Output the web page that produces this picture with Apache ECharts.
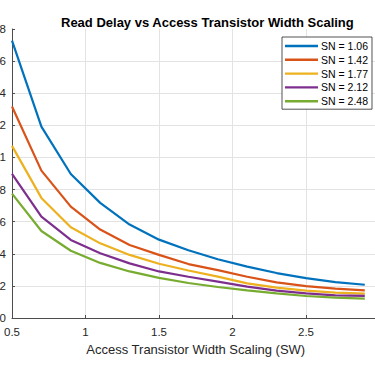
<!DOCTYPE html>
<html>
<head>
<meta charset="utf-8">
<script src="https://cdn.jsdelivr.net/npm/echarts@6/dist/echarts.min.js"></script>
<style>html,body{margin:0;padding:0;background:#fff}#c{width:375px;height:366px}</style>
</head>
<body>
<div id="c"></div>
<script>
const sw = [0.5, 0.7, 0.9, 1.1, 1.3, 1.5, 1.7, 1.9, 2.1, 2.3, 2.5, 2.7, 2.9];
const sn106 = [1.728, 1.192, 0.897, 0.717, 0.582, 0.488, 0.422, 0.366, 0.320, 0.280, 0.248, 0.224, 0.207];
const sn142 = [1.317, 0.918, 0.694, 0.551, 0.455, 0.393, 0.336, 0.298, 0.257, 0.222, 0.199, 0.183, 0.172];
const sn177 = [1.072, 0.748, 0.565, 0.465, 0.393, 0.338, 0.296, 0.258, 0.216, 0.189, 0.170, 0.158, 0.152];
const sn212 = [0.897, 0.631, 0.486, 0.403, 0.340, 0.290, 0.257, 0.227, 0.195, 0.170, 0.153, 0.141, 0.138];
const sn248 = [0.775, 0.542, 0.419, 0.343, 0.290, 0.250, 0.218, 0.193, 0.172, 0.153, 0.137, 0.127, 0.121];
const seriesNames = ['SN = 1.06', 'SN = 1.42', 'SN = 1.77', 'SN = 2.12', 'SN = 2.48'];
const seriesValues = [sn106, sn142, sn177, sn212, sn248];
const colors = ['#0072BD', '#D95319', '#EDB120', '#7E2F8E', '#77AC30'];
const titleText = 'Read Delay vs Access Transistor Width Scaling';
const xLabel = 'Access Transistor Width Scaling (SW)';

const FONT = '"Liberation Sans", Arial, Helvetica, sans-serif';
const chart = echarts.init(document.getElementById('c'), null, {renderer: 'svg'});
chart.setOption({
  animation: false,
  backgroundColor: '#fff',
  color: colors,
  textStyle: {fontFamily: FONT},
  title: {
    text: titleText,
    left: 56, top: 11,
    textStyle: {fontSize: 13, fontWeight: 'bold', color: '#000', fontFamily: FONT}
  },
  legend: {
    orient: 'vertical',
    left: 282, top: 37,
    itemWidth: 33, itemHeight: 2.4,
    itemGap: 1.8,
    padding: [3, 4, 2, 3],
    backgroundColor: '#fff',
    borderColor: '#262626', borderWidth: 0.8,
    borderRadius: 0,
    icon: 'rect',
    textStyle: {fontSize: 10.5, color: '#000', lineHeight: 12, padding: [0, 0, 0, -2]},
    data: seriesNames
  },
  grid: {left: 12, right: -4.5, top: 29, bottom: 48, containLabel: false, outerBoundsMode: 'none'},
  xAxis: {
    type: 'value', min: 0.5, max: 3, interval: 0.5,
    name: xLabel, nameLocation: 'middle', nameGap: 23,
    nameTextStyle: {fontSize: 13, color: '#262626'},
    axisLine: {show: true, onZero: false, lineStyle: {color: '#4d4d4d', width: 1}},
    axisTick: {show: true, inside: true, length: 3, lineStyle: {color: '#4d4d4d'}},
    axisLabel: {fontSize: 11.5, color: '#262626', margin: 8, showMaxLabel: true},
    splitLine: {show: true, lineStyle: {color: '#e3e3e3', width: 1}}
  },
  yAxis: {
    type: 'value', min: 0, max: 1.8, interval: 0.2,
    axisLine: {show: true, onZero: false, lineStyle: {color: '#4d4d4d', width: 1}},
    axisTick: {show: true, inside: true, length: 3, lineStyle: {color: '#4d4d4d'}},
    axisLabel: {fontSize: 11.5, color: '#262626', margin: 6,
      formatter: v => String(Math.round(v * 10) / 10)},
    splitLine: {show: true, showMaxLine: false, lineStyle: {color: '#e3e3e3', width: 1}}
  },
  series: seriesNames.map((n, i) => ({
    name: n, type: 'line', showSymbol: false, symbol: 'none',
    lineStyle: {width: 2.2, color: colors[i]},
    itemStyle: {color: colors[i]},
    data: sw.map((x, j) => [x, seriesValues[i][j]])
  }))
});
</script>
</body>
</html>
